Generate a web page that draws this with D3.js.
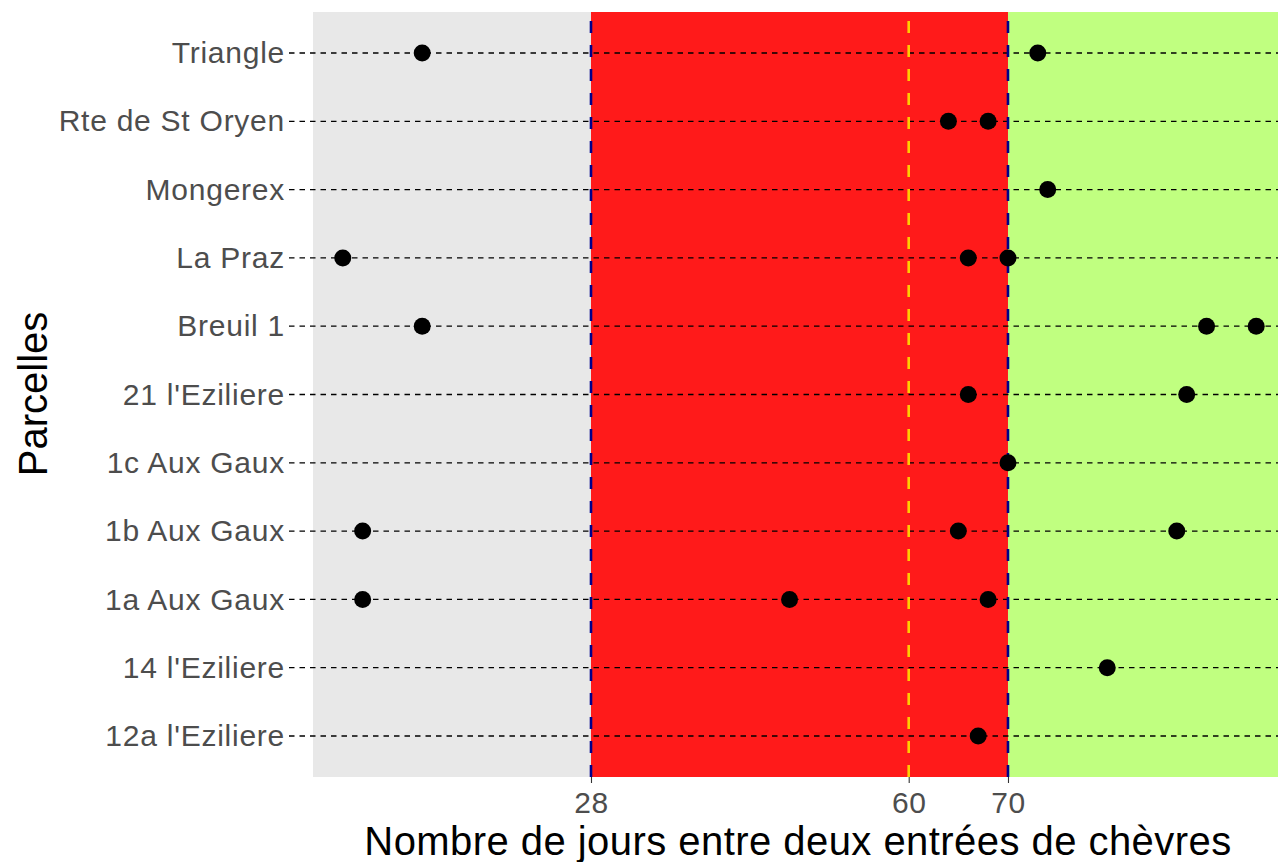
<!DOCTYPE html>
<html>
<head>
<meta charset="utf-8">
<script src="https://d3js.org/d3.v7.min.js"></script>
<style>
  body { margin: 0; background: #fff; }
  svg text { font-family: "Liberation Sans", Arial, sans-serif; }
</style>
</head>
<body>
<div id="graph"></div>
<script>

    // parcelles, from top to bottom
    var parcelles = ["Triangle", "Rte de St Oryen", "Mongerex", "La Praz", "Breuil 1",
        "21 l'Eziliere", "1c Aux Gaux", "1b Aux Gaux", "1a Aux Gaux", "14 l'Eziliere", "12a l'Eziliere"];

    // one observation per point: parcelle + days between two goat entries
    var obsParcelle = ["Triangle", "Triangle",
        "Rte de St Oryen", "Rte de St Oryen",
        "Mongerex",
        "La Praz", "La Praz", "La Praz",
        "Breuil 1", "Breuil 1", "Breuil 1",
        "21 l'Eziliere", "21 l'Eziliere",
        "1c Aux Gaux",
        "1b Aux Gaux", "1b Aux Gaux", "1b Aux Gaux",
        "1a Aux Gaux", "1a Aux Gaux", "1a Aux Gaux",
        "14 l'Eziliere",
        "12a l'Eziliere"];
    var obsJours = [11, 73,
        64, 68,
        74,
        3, 66, 70,
        11, 90, 95,
        66, 88,
        70,
        5, 65, 87,
        5, 48, 68,
        80,
        67];

    // zones and reference lines
    var seuilBas = 28, seuilMoyen = 60, seuilHaut = 70;
    var xTicks = [28, 60, 70];
    var xMin = 0, xMax = 97.7;

    var W = 1278, H = 862;
    var panel = { left: 313, right: 1283, top: 12, bottom: 777 };

    var svg = d3.select("#graph")
        .append("svg")
        .attr("width", W)
        .attr("height", H);

    var x = d3.scaleLinear()
        .domain([xMin, xMax])
        .range([panel.left, panel.right]);

    var y = d3.scalePoint()
        .domain(parcelles)
        .range([panel.top, panel.bottom])
        .padding(0.6);

    // panel background
    svg.append("rect")
        .attr("x", x(xMin))
        .attr("y", panel.top)
        .attr("width", x(xMax) - x(xMin))
        .attr("height", panel.bottom - panel.top)
        .style("fill", "#e8e8e8");

    // red zone 28-70
    svg.append("rect")
        .attr("x", x(seuilBas))
        .attr("y", panel.top)
        .attr("width", x(seuilHaut) - x(seuilBas))
        .attr("height", panel.bottom - panel.top)
        .style("fill", "#ff1a1a");

    // green zone > 70
    svg.append("rect")
        .attr("x", x(seuilHaut))
        .attr("y", panel.top)
        .attr("width", x(xMax) - x(seuilHaut))
        .attr("height", panel.bottom - panel.top)
        .style("fill", "#c0ff80");

    // horizontal dashed lines per parcelle
    svg.append("g")
        .selectAll("line")
        .data(parcelles)
        .enter()
        .append("line")
        .attr("x1", panel.left - 24)
        .attr("x2", W)
        .attr("y1", function (d) { return y(d); })
        .attr("y2", function (d) { return y(d); })
        .style("stroke", "#000")
        .style("stroke-width", 1.3)
        .style("stroke-dasharray", "5.5,5");

    // vertical reference lines (drawn bottom to top)
    var vlines = [
        { v: seuilBas, c: "#00008b" },
        { v: seuilHaut, c: "#00008b" },
        { v: seuilMoyen, c: "#ffcc00" }
    ];
    svg.append("g")
        .selectAll("line")
        .data(vlines)
        .enter()
        .append("line")
        .attr("x1", function (d) { return x(d.v); })
        .attr("x2", function (d) { return x(d.v); })
        .attr("y1", panel.bottom)
        .attr("y2", panel.top)
        .style("stroke", function (d) { return d.c; })
        .style("stroke-width", 2.6)
        .style("stroke-dasharray", "12,12");

    // points
    svg.append("g")
        .selectAll("circle")
        .data(obsJours)
        .enter()
        .append("circle")
        .attr("cx", function (d) { return x(d); })
        .attr("cy", function (d, i) { return y(obsParcelle[i]); })
        .attr("r", 8.5)
        .style("fill", "#000");

    // x axis
    var xAxis = svg.append("g")
        .attr("transform", "translate(0," + panel.bottom + ")")
        .call(d3.axisBottom(x).tickValues(xTicks).tickSize(6).tickPadding(9).tickSizeOuter(0));
    xAxis.select(".domain").remove();
    xAxis.selectAll(".tick line").style("stroke", "#333").style("stroke-width", 1.1);
    xAxis.selectAll(".tick text")
        .style("font-size", "30px")
        .style("fill", "#4d4d4d")
        .style("letter-spacing", "0.5px")
        .style("font-family", "'Liberation Sans', Arial, sans-serif");

    // y axis labels
    var yAxis = svg.append("g")
        .attr("transform", "translate(" + (panel.left - 28) + ",0)")
        .call(d3.axisLeft(y).tickSize(0).tickPadding(0));
    yAxis.select(".domain").remove();
    yAxis.selectAll(".tick text")
        .style("font-size", "30px")
        .style("fill", "#4d4d4d")
        .style("letter-spacing", "0.75px")
        .style("font-family", "'Liberation Sans', Arial, sans-serif");

    // axis titles
    svg.append("text")
        .attr("x", (panel.left + panel.right) / 2)
        .attr("y", 855)
        .attr("text-anchor", "middle")
        .style("font-size", "40px")
        .style("letter-spacing", "0.45px")
        .style("fill", "#000")
        .text("Nombre de jours entre deux entrées de chèvres");

    svg.append("text")
        .attr("transform", "translate(47,394) rotate(-90)")
        .attr("text-anchor", "middle")
        .style("font-size", "40px")
        .style("fill", "#000")
        .text("Parcelles");

</script>
</body>
</html>
